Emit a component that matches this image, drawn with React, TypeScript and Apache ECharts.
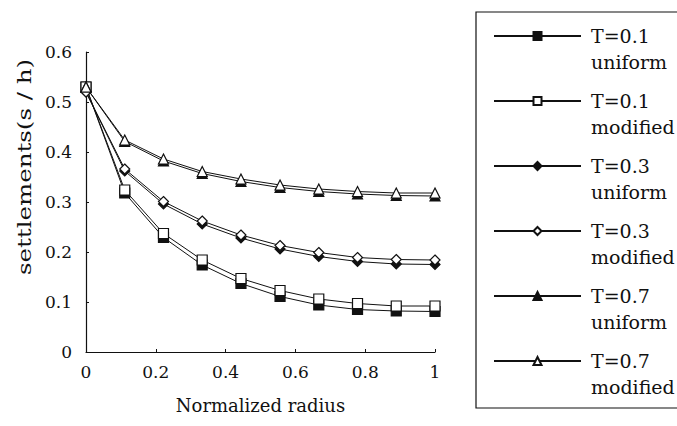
import React, { useEffect, useRef } from "react";
import * as echarts from "echarts";

const radius = [0, 0.111, 0.222, 0.333, 0.444, 0.556, 0.667, 0.778, 0.889, 1];
const t01Uniform = [0.53, 0.318, 0.229, 0.174, 0.137, 0.111, 0.094, 0.085, 0.082, 0.081];
const t01Modified = [0.53, 0.324, 0.237, 0.184, 0.147, 0.123, 0.106, 0.097, 0.092, 0.092];
const t03Uniform = [0.52, 0.362, 0.296, 0.256, 0.228, 0.206, 0.191, 0.181, 0.176, 0.175];
const t03Modified = [0.52, 0.366, 0.301, 0.262, 0.234, 0.213, 0.199, 0.189, 0.185, 0.184];
const t07Uniform = [0.53, 0.421, 0.382, 0.357, 0.341, 0.329, 0.321, 0.316, 0.313, 0.312];
const t07Modified = [0.53, 0.424, 0.386, 0.361, 0.346, 0.334, 0.326, 0.321, 0.318, 0.318];

const seriesNames = [
  "T=0.1 uniform",
  "T=0.1 modified",
  "T=0.3 uniform",
  "T=0.3 modified",
  "T=0.7 uniform",
  "T=0.7 modified",
];
const seriesValues = [t01Uniform, t01Modified, t03Uniform, t03Modified, t07Uniform, t07Modified];
const seriesSymbols = ["rect", "rect", "diamond", "diamond", "triangle", "triangle"];
const seriesFilled = [true, false, true, false, true, false];

const xAxisName = "Normalized radius";
const yAxisName = "settlements(s / h)";

const FONT = "DejaVu Serif";

export default function App() {
  const ref = useRef<HTMLDivElement>(null);
  useEffect(() => {
    if (!ref.current) return;
    const chart = echarts.init(ref.current, undefined, { renderer: "svg" });
    const series = seriesNames.map((name, i) => ({
      name,
      type: "line",
      data: radius.map((x, j) => [x, seriesValues[i][j]]),
      symbol: seriesSymbols[i],
      symbolSize: 10,
      showSymbol: true,
      lineStyle: { color: "#111", width: 1 },
      itemStyle: {
        color: seriesFilled[i] ? "#111" : "#fff",
        borderColor: "#111",
        borderWidth: 1.2,
      },
      emphasis: { disabled: true },
      z: 2 + i,
    }));
    chart.setOption({
      animation: false,
      backgroundColor: "#fff",
      grid: { left: 86, right: 242, top: 52, bottom: 74, containLabel: false },
      xAxis: {
        type: "value",
        min: 0,
        max: 1,
        interval: 0.2,
        name: xAxisName,
        nameLocation: "middle",
        nameGap: 44,
        nameTextStyle: { fontFamily: FONT, fontSize: 18, color: "#111" },
        axisLine: { show: true, onZero: false, lineStyle: { color: "#111", width: 1.2 } },
        axisTick: { show: true, inside: true, length: 3, lineStyle: { color: "#111" } },
        axisLabel: { fontFamily: FONT, fontSize: 17, color: "#111", margin: 11 },
        splitLine: { show: false },
      },
      yAxis: {
        type: "value",
        min: 0,
        max: 0.6,
        interval: 0.1,
        axisLine: { show: true, onZero: false, lineStyle: { color: "#111", width: 1.2 } },
        axisTick: { show: true, inside: true, length: 3, lineStyle: { color: "#111" } },
        axisLabel: { fontFamily: FONT, fontSize: 17, color: "#111", margin: 14 },
        splitLine: { show: false },
      },
      legend: {
        orient: "vertical",
        left: 493,
        top: -3,
        padding: 0,
        itemGap: -13,
        itemWidth: 87,
        itemHeight: 10,
        selectedMode: false,
        formatter: (name: string) => "\n" + name.replace(" ", "\n"),
        textStyle: {
          fontFamily: FONT,
          fontSize: 19,
          lineHeight: 26,
          color: "#111",
          padding: [0, 0, 0, 5],
        },
        data: seriesNames,
      },
      graphic: [
        {
          type: "rect",
          shape: { x: 476, y: 12, width: 260, height: 396 },
          style: { fill: "none", stroke: "#111", lineWidth: 1.2 },
          silent: true,
        },
        {
          type: "text",
          x: 25,
          y: 167,
          rotation: Math.PI / 2,
          scaleX: 1.29,
          style: {
            text: yAxisName,
            fontFamily: FONT,
            fontSize: 19,
            fill: "#111",
            align: "center",
            verticalAlign: "middle",
          },
          silent: true,
        },
      ],
      series,
    });
    return () => chart.dispose();
  }, []);
  return (
    <div
      ref={ref}
      style={{ position: "fixed", left: 0, top: 0, width: 677, height: 426, background: "#fff" }}
    />
  );
}
